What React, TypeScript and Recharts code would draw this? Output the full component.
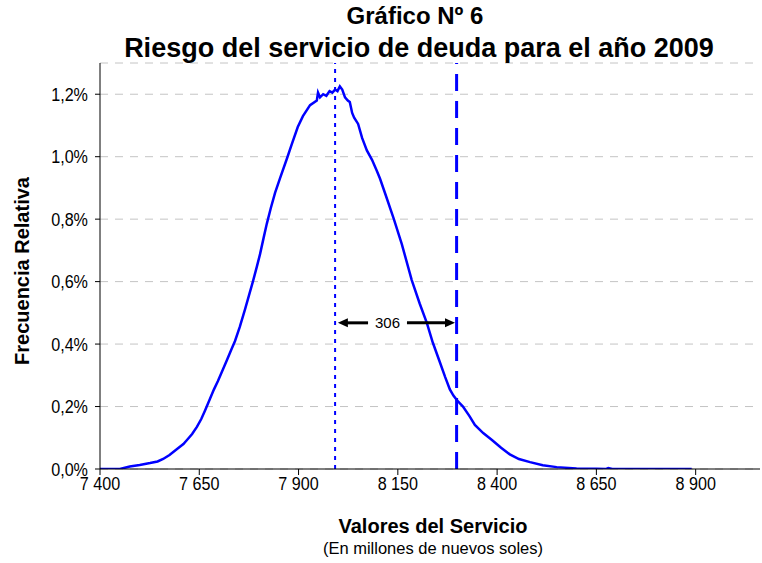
import React from "react";
import { LineChart, Line, XAxis, YAxis, CartesianGrid, ReferenceLine, ReferenceDot } from "recharts";

const TITLE_1 = "Gráfico Nº 6";
const TITLE_2 = "Riesgo del servicio de deuda para el año 2009";
const X_TITLE = "Valores del Servicio";
const X_SUBTITLE = "(En millones de nuevos soles)";
const Y_TITLE = "Frecuencia Relativa";

const X_VALUES = [
  7400, 7450, 7475, 7500, 7526, 7545, 7559, 7575, 7594, 7610, 7619, 7632, 7644, 7655, 7664, 7677, 7687, 7697,
  7710, 7720, 7730, 7740, 7752, 7765, 7775, 7785, 7795, 7803, 7812, 7820, 7830, 7841, 7853, 7871, 7883, 7898,
  7911, 7929, 7946, 7949, 7954, 7962, 7970, 7978, 7985, 7992, 7998, 8004, 8010, 8017, 8024, 8029, 8035, 8040,
  8050, 8060, 8072, 8085, 8097, 8105, 8120, 8140, 8160, 8185, 8205, 8223, 8238, 8255, 8269, 8281, 8290, 8299,
  8314, 8330, 8344, 8365, 8387, 8410, 8432, 8455, 8483, 8515, 8550, 8600, 8650, 8675, 8680, 8690, 8800, 8890,
];
const FREQ_VALUES = [
  0, 0, 0.008, 0.013, 0.019, 0.024, 0.032, 0.045, 0.064, 0.08, 0.093, 0.112, 0.135, 0.16, 0.186, 0.225, 0.255, 0.282,
  0.32, 0.35, 0.38, 0.41, 0.455, 0.51, 0.555, 0.6, 0.648, 0.688, 0.74, 0.785, 0.835, 0.885, 0.93, 0.995, 1.04, 1.095,
  1.13, 1.165, 1.18, 1.205, 1.19, 1.2, 1.195, 1.21, 1.205, 1.215, 1.21, 1.225, 1.215, 1.19, 1.18, 1.175, 1.14, 1.125,
  1.105, 1.06, 1.02, 0.99, 0.955, 0.93, 0.875, 0.8, 0.72, 0.605, 0.53, 0.468, 0.405, 0.345, 0.295, 0.255, 0.235, 0.22,
  0.2, 0.17, 0.141, 0.115, 0.093, 0.068, 0.047, 0.032, 0.022, 0.012, 0.006, 0.002, 0.001, 0, 0.003, 0, 0, 0,
];

const X_TICKS = [7400, 7650, 7900, 8150, 8400, 8650, 8900];
const Y_TICKS = [0, 0.2, 0.4, 0.6, 0.8, 1.0, 1.2];
const X_DOMAIN = [7400, 9062];
const Y_DOMAIN = [0, 1.3];

const MEAN_VALUE = 7992;
const RISK_VALUE = 8298;
const GAP_LABEL = "306";
const ARROW_Y = 0.468;
const ARROW_LEFT = [8075, 7999];
const ARROW_RIGHT = [8173, 8294];
const GAP_LABEL_X = 8124;

const data = X_VALUES.map((x, i) => ({ x, f: FREQ_VALUES[i] }));

const FONT = "'Liberation Sans', Arial, Helvetica, sans-serif";
const BLUE = "#0000ff";
const TICK_SIZE = 19;
const TICK_SQUEEZE = 0.85;

const fmtX = (v: number) => String(v).replace(/\B(?=(\d{3})+(?!\d))/g, " ");
const fmtY = (v: number) => v.toFixed(1).replace(".", ",") + "%";

const XTick = (props: any) => {
  const { x, y, payload } = props;
  return (
    <text
      x={x}
      y={y}
      dy="0.71em"
      textAnchor="middle"
      fontFamily={FONT}
      fontSize={TICK_SIZE}
      fill="#000"
      transform={`translate(${x},0) scale(${TICK_SQUEEZE},1) translate(${-x},0)`}
    >
      {fmtX(payload.value)}
    </text>
  );
};

const YTick = (props: any) => {
  const { x, y, payload } = props;
  return (
    <text
      x={x}
      y={y}
      dy="0.355em"
      textAnchor="end"
      fontFamily={FONT}
      fontSize={TICK_SIZE}
      fill="#000"
      transform={`translate(${x},0) scale(${TICK_SQUEEZE},1) translate(${-x},0)`}
    >
      {fmtY(payload.value)}
    </text>
  );
};

const Arrow = (props: any) => {
  const { x1, y1, x2, y2 } = props;
  const dir = Math.sign(x2 - x1) || 1;
  const head = 10;
  return (
    <g>
      <line x1={x1} y1={y1} x2={x2 - dir * head + dir} y2={y2} stroke="#000" strokeWidth={3} />
      <polygon
        points={`${x2},${y2} ${x2 - dir * head},${y2 - 4.5} ${x2 - dir * head},${y2 + 4.5}`}
        fill="#000"
      />
    </g>
  );
};

const GapText = (props: any) => {
  const { cx, cy } = props;
  return (
    <text x={cx} y={cy + 5} textAnchor="middle" fontFamily={FONT} fontSize={15} fill="#000">
      {GAP_LABEL}
    </text>
  );
};

export default function App() {
  return (
    <div style={{ position: "absolute", left: 0, top: 0, width: 762, height: 563, background: "#fff" }}>
      <LineChart width={762} height={563} data={data} margin={{ top: 63, right: 2, bottom: 0, left: 0 }}>
        <CartesianGrid horizontal vertical={false} stroke="#c4c4c4" strokeDasharray="8 7" />
        <XAxis
          type="number"
          dataKey="x"
          domain={X_DOMAIN}
          ticks={X_TICKS}
          tickFormatter={fmtX}
          height={94}
          tickSize={6}
          tickMargin={2}
          allowDataOverflow
          stroke="#000"
          tick={<XTick />}
        />
        <YAxis
          type="number"
          domain={Y_DOMAIN}
          ticks={Y_TICKS}
          tickFormatter={fmtY}
          width={100}
          tickSize={5}
          tickMargin={7}
          allowDataOverflow
          stroke="#000"
          tick={<YTick />}
        />
        <ReferenceLine x={MEAN_VALUE} stroke={BLUE} strokeWidth={2} strokeDasharray="4 5" />
        <ReferenceLine x={RISK_VALUE} stroke={BLUE} strokeWidth={3} strokeDasharray="17 10" />
        <Line
          type="linear"
          dataKey="f"
          stroke={BLUE}
          strokeWidth={2.5}
          dot={false}
          isAnimationActive={false}
        />
        <ReferenceLine
          segment={[
            { x: ARROW_LEFT[0], y: ARROW_Y },
            { x: ARROW_LEFT[1], y: ARROW_Y },
          ]}
          shape={Arrow}
        />
        <ReferenceLine
          segment={[
            { x: ARROW_RIGHT[0], y: ARROW_Y },
            { x: ARROW_RIGHT[1], y: ARROW_Y },
          ]}
          shape={Arrow}
        />
        <ReferenceDot x={GAP_LABEL_X} y={ARROW_Y} r={0} shape={GapText} />
      </LineChart>
      <svg
        width={762}
        height={563}
        style={{ position: "absolute", left: 0, top: 0, pointerEvents: "none" }}
      >
        <text x={415} y={24} textAnchor="middle" fontFamily={FONT} fontWeight="bold" fontSize={24} fill="#000">
          {TITLE_1}
        </text>
        <text x={419} y={57} textAnchor="middle" fontFamily={FONT} fontWeight="bold" fontSize={27} fill="#000">
          {TITLE_2}
        </text>
        <text x={433} y={533} textAnchor="middle" fontFamily={FONT} fontWeight="bold" fontSize={20} fill="#000">
          {X_TITLE}
        </text>
        <text x={433} y={554} textAnchor="middle" fontFamily={FONT} fontSize={16.5} fill="#000">
          {X_SUBTITLE}
        </text>
        <text
          transform="translate(29,271) rotate(-90)"
          textAnchor="middle"
          fontFamily={FONT}
          fontWeight="bold"
          fontSize={20}
          fill="#000"
        >
          {Y_TITLE}
        </text>
      </svg>
    </div>
  );
}
